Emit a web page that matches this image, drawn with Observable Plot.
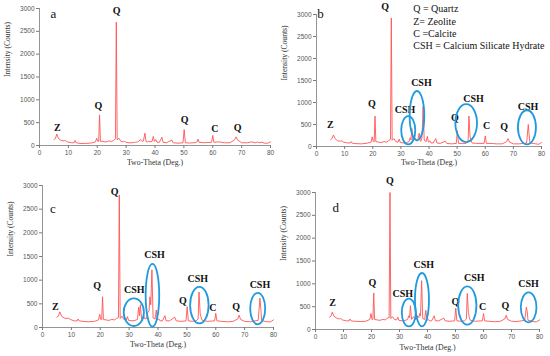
<!DOCTYPE html>
<html><head><meta charset="utf-8">
<script src="https://cdn.jsdelivr.net/npm/d3@7"></script>
<script src="https://cdn.jsdelivr.net/npm/@observablehq/plot@0.6"></script>
<style>
body{margin:0;background:#fff;}
#wrap{position:relative;width:550px;height:356px;overflow:hidden;background:#fff;}
.p{position:absolute;}
.p svg{overflow:visible;background:transparent;}
</style></head><body><div id="wrap"></div>
<script>
// Shared 2-theta grid (degrees)
const twoTheta = [5,5.5,6,6.6,7.5,8.5,9,9.6,11,12,12.3,12.7,14,16,18,19.4,19.8,20.2,20.5,20.8,21.1,22,23,24,25,25.6,26.3,26.6,26.9,27.5,28.2,29,29.4,29.8,31,32,32.9,33.3,33.6,33.9,34.3,35,35.5,36,36.5,36.9,37.2,37.5,37.9,38.3,39,39.4,39.8,40.3,40.7,41.5,42.4,42.8,44,45.8,46.3,48,49.7,50.1,50.5,52,53.2,53.9,54.2,54.6,54.9,55.3,57,59.6,60,60.4,62,64,66,67.6,68.1,68.6,70,72,73.5,74.7,75.3,75.6,75.9,77,78,79,80];

const countsA = [130,150,250,150,110,100,110,80,60,60,110,60,45,45,55,80,160,90,90,670,90,90,75,100,90,110,150,2700,120,160,90,80,90,75,60,60,70,70,75,80,90,130,90,100,270,90,80,80,90,80,90,200,90,130,70,70,180,70,60,120,60,50,60,350,60,55,60,60,70,80,140,70,60,70,220,70,80,60,60,130,190,120,60,60,80,60,70,80,60,70,50,50,80];
const countsB = [150,180,260,180,130,120,130,100,80,80,110,75,65,60,75,100,220,110,110,690,110,100,90,110,100,130,160,2920,140,180,110,100,170,90,80,90,110,200,150,410,130,200,130,130,300,120,130,200,910,140,110,230,100,130,80,80,180,80,70,120,70,60,70,360,70,70,70,120,690,220,150,80,70,70,240,70,70,60,60,110,180,100,60,60,70,80,500,260,80,70,60,50,90];
const countsC = [220,240,330,240,200,190,200,170,140,140,180,140,130,120,130,160,280,170,170,650,170,160,150,170,160,190,210,2800,190,240,170,160,230,150,140,150,170,430,250,480,180,250,180,190,320,350,650,480,1220,200,180,370,160,180,140,140,250,140,140,220,140,130,140,440,140,130,140,180,750,300,220,150,130,140,300,140,130,120,130,180,260,170,130,120,140,150,620,400,150,130,120,120,160];
const countsD = [270,290,380,290,250,230,240,210,190,190,230,190,180,175,180,220,350,220,220,800,220,210,200,220,210,250,260,3000,240,280,220,210,270,200,190,200,220,300,260,520,220,280,220,220,300,260,350,300,1070,240,220,420,200,220,190,190,300,190,190,250,190,180,190,470,190,180,190,230,790,380,270,200,180,190,350,190,180,170,180,230,310,220,180,175,190,200,490,400,200,190,170,170,210];

const xTicks = [0,10,20,30,40,50,60,70,80];
const yTicks = [0,500,1000,1500,2000,2500,3000];

// Peak labels (data coordinates)
const peakTextA = ["Z","Q","Q","Q","C","Q"];
const peakThetaA = [6.2,20.4,26.7,50.3,60.7,68.6];
const peakCountsA = [394,876,2956,569,372,394];

const peakTextB = ["Z","Q","Q","CSH","CSH","Q","CSH","C","Q","CSH"];
const peakThetaB = [4.9,19.7,24.4,31.5,37.3,49.2,55.8,60.5,66.7,75.2];
const peakCountsB = [486,980,3181,828,1443,645,1086,463,448,904];

const peakTextC = ["Z","Q","Q","CSH","CSH","Q","CSH","C","Q","CSH"];
const peakThetaC = [4.4,18.9,25.0,31.8,38.8,48.6,53.8,59.0,67.1,75.3];
const peakCountsC = [442,883,2874,792,1542,568,1023,420,442,911];

const peakTextD = ["Z","Q","Q","CSH","CSH","Q","CSH","C","Q","CSH"];
const peakThetaD = [6.1,20.3,26.6,31.2,38.7,50.0,56.7,59.7,67.8,76.1];
const peakCountsD = [584,1029,3248,788,1423,606,1131,496,511,993];

// CSH ellipses: centre theta, centre counts, half-width (deg), half-height (counts)
const ellCxB = [32.8,35.9,53.4,75.0], ellCyB = [357,690,520,425], ellRxB = [2.5,2.6,3.85,3.2], ellRyB = [320,560,430,387];
const ellCxC = [31.8,38.25,54.5,74.7], ellCyC = [312,670,462,389], ellRxC = [3.5,2.35,3.2,2.6], ellRyC = [291,662,386,333];
const ellCxD = [33.5,38.2,54.4,76.3], ellCyD = [361,642,515,474], ellRxD = [2.5,2.5,3.25,2.8], ellRyD = [303,584,420,328];

const panelLetters = ["a","b","c","d"];
const letterTheta = [4.8,1.4,3.6,7.2];
const letterCounts = [2890,3017,2509,2664];

const legendLines = ["Q = Quartz","Z= Zeolite","C =Calcite","CSH = Calcium Silicate Hydrate"];
const legendTheta = 34.4;
const legendCounts = [3128,2840,2559,2278];

const serif = "'Liberation Serif','Times New Roman',serif";
const sans = "'Liberation Sans',Arial,sans-serif";

function ellipseMark(cx, cy, rx, ry) {
  return (index, scales) => {
    const g = d3.create("svg:g").attr("fill","none").attr("stroke","#1f9ade").attr("stroke-width",1.8);
    for (let i = 0; i < cx.length; i++) {
      const x = scales.x(cx[i]), y = scales.y(cy[i]);
      g.append("ellipse").attr("cx", x).attr("cy", y)
        .attr("rx", Math.abs(scales.x(cx[i] + rx[i]) - x))
        .attr("ry", Math.abs(scales.y(cy[i] + ry[i]) - y));
    }
    return g.node();
  };
}

function panel(opts) {
  const data = twoTheta.map((t, i) => ({t, c: opts.counts[i]}));
  const labels = opts.peakText.map((s, i) => ({s, t: opts.peakTheta[i], c: opts.peakCounts[i]}));
  const marks = [
    Plot.ruleY([0], {stroke:"#7a7a7a", strokeWidth:0.8}),
    Plot.ruleX([0], {stroke:"#7a7a7a", strokeWidth:0.8}),
    Plot.axisX({ticks: xTicks, tickSize: 3, tickPadding: 2, tickFormat: "d", fontSize: 6.5, stroke:"#7a7a7a", fill:"#555", label: null}),
    Plot.axisY({ticks: yTicks, tickSize: 3, tickPadding: 2, tickFormat: "d", fontSize: 6.5, stroke:"#7a7a7a", fill:"#555", label: null}),
    Plot.line(data, {x:"t", y:"c", stroke:"#ff5555", strokeWidth:0.9}),
    Plot.text(["Two-Theta (Deg.)"], {frameAnchor:"bottom", dy: opts.xTitleDy, fontFamily: serif, fontSize: 7.8, fill:"#333"}),
    Plot.text(["Intensity (Counts)"], {frameAnchor:"left", dx: -32, rotate: -90, fontFamily: serif, fontSize: 7.6, fill:"#333"}),
    Plot.text(labels, {x:"t", y:"c", text:"s", fontFamily: serif, fontWeight:"bold", fontSize: 10, fill:"#111"}),
    Plot.text([opts.letter], {x: opts.letterTheta, y: opts.letterCounts, fontFamily: serif, fontSize: 13, fill:"#111"})
  ];
  if (opts.ell) marks.push(ellipseMark(...opts.ell));
  if (opts.legend) marks.push(Plot.text(legendLines.map((s, i) => ({s, c: legendCounts[i]})), {x: () => legendTheta, y:"c", text:"s", textAnchor:"start", fontFamily: serif, fontSize: 10, fill:"#111"}));
  const svg = Plot.plot({
    width: 275, height: 178,
    marginLeft: opts.m[0], marginRight: opts.m[1], marginTop: opts.m[2], marginBottom: opts.m[3],
    x: {domain:[0,80]}, y: {domain:[0,3000]},
    style: {fontFamily: sans, background: "transparent", overflow: "visible"},
    marks
  });
  const div = document.createElement("div");
  div.className = "p";
  div.style.left = opts.left + "px";
  div.style.top = opts.top + "px";
  div.appendChild(svg);
  document.getElementById("wrap").appendChild(div);
}

panel({counts: countsA, peakText: peakTextA, peakTheta: peakThetaA, peakCounts: peakCountsA,
  letter: panelLetters[0], letterTheta: letterTheta[0], letterCounts: letterCounts[0],
  left: 0, top: 0, m: [39,5,8,33], xTitleDy: 19});
panel({counts: countsB, peakText: peakTextB, peakTheta: peakThetaB, peakCounts: peakCountsB,
  letter: panelLetters[1], letterTheta: letterTheta[1], letterCounts: letterCounts[1],
  ell: [ellCxB, ellCyB, ellRxB, ellRyB], legend: true,
  left: 275, top: 0, m: [41,9,14,32], xTitleDy: 18});
panel({counts: countsC, peakText: peakTextC, peakTheta: peakThetaC, peakCounts: peakCountsC,
  letter: panelLetters[2], letterTheta: letterTheta[2], letterCounts: letterCounts[2],
  ell: [ellCxC, ellCyC, ellRxC, ellRyC],
  left: 0, top: 178, m: [42,2,7,29], xTitleDy: 19});
panel({counts: countsD, peakText: peakTextD, peakTheta: peakThetaD, peakCounts: peakCountsD,
  letter: panelLetters[3], letterTheta: letterTheta[3], letterCounts: letterCounts[3],
  ell: [ellCxD, ellCyD, ellRxD, ellRyD],
  left: 275, top: 178, m: [40,11,14,27], xTitleDy: 20});
</script></body></html>
